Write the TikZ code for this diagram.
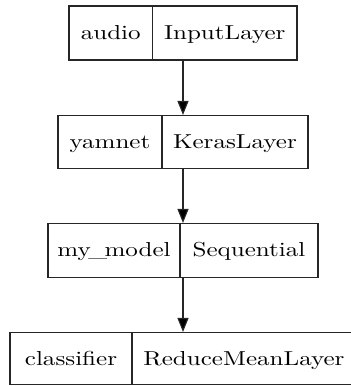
\documentclass[tikz,border=0pt]{standalone}
\usepackage{fontspec}
\newfontfamily\recfont{lmroman10-regular.otf}[FakeStretch=1.24]
\usetikzlibrary{arrows.meta}
\begin{document}
\begin{tikzpicture}[x=1pt,y=-1pt,
  recordbox/.style={draw=black!85,line width=1.1pt,rectangle,inner sep=0pt},
  divider/.style={draw=black!85,line width=1.1pt},
  cell/.style={inner sep=0pt,anchor=base,text=black},
  edge/.style={draw=black!85,line width=1.1pt,
    -{Triangle[length=14pt,width=11pt,fill=black]}},
  font=\recfont\fontsize{20.2}{24}\selectfont]
\useasboundingbox (0,0) rectangle (351,386);
\clip (0,0) rectangle (351,386);
% layer records: outer frame, divider, name and class (text on a common baseline)
\node[recordbox,minimum width=228pt,minimum height=54pt] (audio) at (183,33) {};
\draw[divider] (152.5,6) -- (152.5,60);
\node[cell] (audioname) at (110.8,39.3) {audio};
\node[cell] (audioclass) at (224.8,39.3) {InputLayer};

\node[recordbox,minimum width=250pt,minimum height=53pt] (yamnet) at (183,142) {};
\draw[divider] (162,115.5) -- (162,168.5);
\node[cell] (yamnetname) at (110,148) {yamnet};
\node[cell] (yamnetclass) at (235,148) {KerasLayer};

\node[recordbox,minimum width=270pt,minimum height=54pt] (mymodel) at (183,250.5) {};
\draw[divider] (180,223.5) -- (180,277.5);
\node[cell] (mymodelname) at (114,256.7) {my\kern-2.5pt\_\kern-2.5pt model};
\node[cell] (mymodelclass) at (249,256.7) {Sequential};

\node[recordbox,minimum width=346pt,minimum height=52pt] (classifier) at (183,358.5) {};
\draw[divider] (132,332.5) -- (132,384.5);
\node[cell] (classifiername) at (71,365) {classifier};
\node[cell] (classifierclass) at (244,365) {ReduceMeanLayer};

% connections between layers
\draw[edge] (audio.south) -- (yamnet.north);
\draw[edge] (yamnet.south) -- (mymodel.north);
\draw[edge] (mymodel.south) -- (classifier.north);
\end{tikzpicture}
\end{document}
